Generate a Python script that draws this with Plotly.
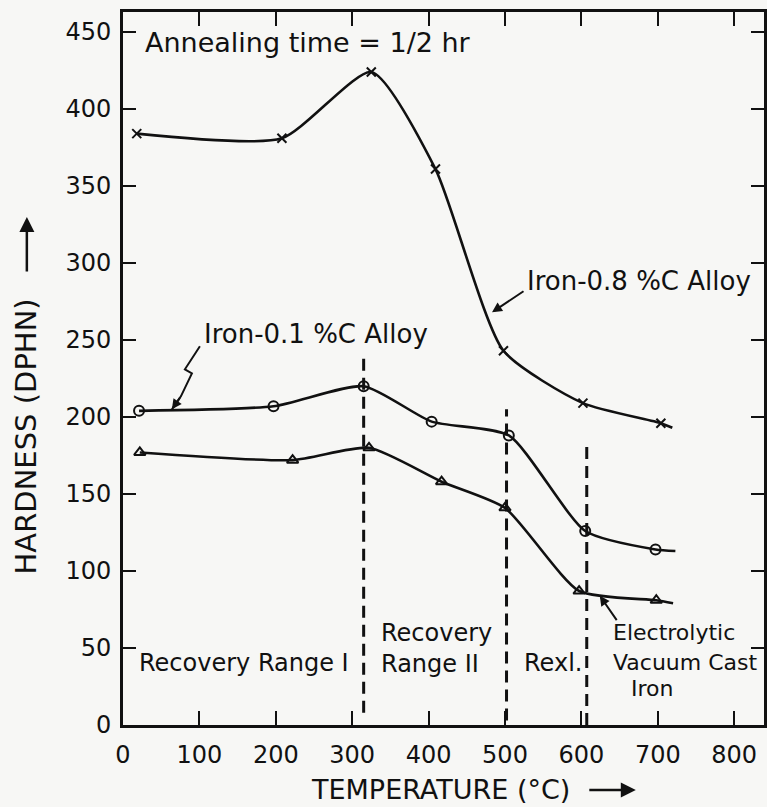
import plotly.graph_objects as go

# ---------------- data ----------------
temp_08 = [18, 208, 325, 409, 498, 602, 704]
hard_08 = [384, 381, 424, 361, 243, 209, 196]
end_08 = (719, 193)

temp_01 = [21, 197, 315, 404, 505, 605, 697]
hard_01 = [204, 207, 220, 197, 188, 126, 114]
end_01 = (723, 113)

temp_el = [22, 222, 322, 417, 500, 597, 698]
hard_el = [177, 172, 180, 158, 141, 87, 81]
end_el = (720, 79)

# range boundaries (temperature, top hardness, bottom hardness)
boundary_temp = [315, 502, 607]
boundary_top = [238, 205, 185]
boundary_bottom = [8, 3, 0]

x_ticks = [0, 100, 200, 300, 400, 500, 600, 700, 800]
y_ticks = [0, 50, 100, 150, 200, 250, 300, 350, 400, 450]

FONT = "DejaVu Sans"
INK = "#111111"
BG = "#f7f7f5"

fig = go.Figure()

series = [
    (temp_08, hard_08, end_08, "x-thin-open", 9, "Iron-0.8 %C Alloy"),
    (temp_01, hard_01, end_01, "circle-open", 10, "Iron-0.1 %C Alloy"),
    (temp_el, hard_el, end_el, "triangle-up-open", 10, "Electrolytic Vacuum Cast Iron"),
]
for tx, hy, end, sym, msize, name in series:
    fig.add_trace(go.Scatter(
        x=tx + [end[0]], y=hy + [end[1]], mode="lines",
        line=dict(color=INK, width=2.6, shape="spline", smoothing=0.6),
        hoverinfo="skip", showlegend=False))
    fig.add_trace(go.Scatter(
        x=tx, y=hy, mode="markers", name=name,
        marker=dict(symbol=sym, size=msize, color=INK,
                    line=dict(color=INK, width=2)),
        showlegend=False))

# dashed range boundaries
for bx, top, bot in zip(boundary_temp, boundary_top, boundary_bottom):
    fig.add_shape(type="line", xref="x", yref="y", x0=bx, x1=bx, y0=bot, y1=top,
                  line=dict(color=INK, width=3, dash="12px,7px"))

# zig-zag leader for Iron-0.1 %C (pixel offsets relative to arrow tip, y up)
zig = [(0, 0), (9, 13), (20, 36), (13, 40), (28, 63)]
path = "M " + " L ".join(f"{dx},{dy}" for dx, dy in zig)
fig.add_shape(type="path", xref="x", yref="y", xsizemode="pixel", ysizemode="pixel",
              xanchor=64, yanchor=205, path=path,
              line=dict(color=INK, width=2))

txt = dict(family=FONT, size=24, color=INK)
big = dict(family=FONT, size=26, color=INK)
small = dict(family=FONT, size=22, color=INK)
ann = []
ann.append(dict(x=26, y=443, xref="x", yref="y", text="Annealing time = 1/2 hr",
                showarrow=False, xanchor="left", yanchor="middle", font=dict(family=FONT, size=27, color=INK)))
ann.append(dict(x=526, y=288, xref="x", yref="y", text="Iron-0.8 %C Alloy",
                showarrow=False, xanchor="left", yanchor="middle", font=big))
ann.append(dict(x=104, y=254, xref="x", yref="y", text="Iron-0.1 %C Alloy",
                showarrow=False, xanchor="left", yanchor="middle", font=big))
# leader arrows
ann.append(dict(x=483, y=268, xref="x", yref="y", text="", showarrow=True,
                ax=33, ay=-22, arrowhead=2, arrowsize=1, arrowwidth=2, arrowcolor=INK))
ann.append(dict(x=64, y=205, xref="x", yref="y", text="", showarrow=True,
                ax=9, ay=-13, arrowhead=2, arrowsize=1, arrowwidth=2, arrowcolor=INK))
ann.append(dict(x=624, y=84, xref="x", yref="y", text="", showarrow=True,
                ax=18, ay=26, arrowhead=2, arrowsize=1, arrowwidth=2, arrowcolor=INK))
# region labels
ann.append(dict(x=18, y=40, xref="x", yref="y", text="Recovery Range I",
                showarrow=False, xanchor="left", yanchor="middle", font=txt))
ann.append(dict(x=335, y=50, xref="x", yref="y", text="Recovery<br>Range II",
                showarrow=False, xanchor="left", yanchor="middle", align="left", font=txt))
ann.append(dict(x=522, y=40, xref="x", yref="y", text="Rexl.",
                showarrow=False, xanchor="left", yanchor="middle", font=txt))
ann.append(dict(x=639, y=60, xref="x", yref="y", text="Electrolytic",
                showarrow=False, xanchor="left", yanchor="middle", font=small))
ann.append(dict(x=639, y=40.5, xref="x", yref="y", text="Vacuum Cast",
                showarrow=False, xanchor="left", yanchor="middle", font=small))
ann.append(dict(x=662, y=24, xref="x", yref="y", text="Iron",
                showarrow=False, xanchor="left", yanchor="middle", font=small))
# axis titles
ann.append(dict(x=0.495, y=-0.091, xref="paper", yref="paper", text="TEMPERATURE (°C)",
                showarrow=False, xanchor="center", yanchor="middle",
                font=dict(family=FONT, size=27, color=INK)))
ann.append(dict(x=0.80, y=-0.091, xref="paper", yref="paper", text="", showarrow=True,
                ax=-48, ay=0, arrowhead=2, arrowsize=1.2, arrowwidth=2.5, arrowcolor=INK))
ann.append(dict(x=-0.151, y=0.405, xref="paper", yref="paper", text="HARDNESS (DPHN)",
                showarrow=False, textangle=-90, xanchor="center", yanchor="middle",
                font=dict(family=FONT, size=29, color=INK)))
ann.append(dict(x=-0.150, y=0.7125, xref="paper", yref="paper", text="", showarrow=True,
                ax=0, ay=56, arrowhead=2, arrowsize=1.2, arrowwidth=2.5, arrowcolor=INK))

fig.update_layout(
    width=767, height=807,
    margin=dict(l=123, r=0, t=12, b=82),
    paper_bgcolor=BG, plot_bgcolor=BG,
    font=dict(family=FONT, color=INK),
    annotations=ann,
    showlegend=False,
)
fig.update_xaxes(range=[0, 839], tickvals=x_ticks, ticktext=[str(v) for v in x_ticks],
                 ticks="inside", ticklen=14, tickwidth=2.2, tickcolor=INK,
                 showline=True, linewidth=2.8, linecolor=INK, mirror="ticks",
                 showgrid=False, zeroline=False,
                 tickfont=dict(family=FONT, size=24, color=INK), ticklabelstandoff=6)
fig.update_yaxes(range=[0, 463], tickvals=y_ticks, ticktext=[str(v) for v in y_ticks],
                 ticks="inside", ticklen=13, tickwidth=2.2, tickcolor=INK,
                 showline=True, linewidth=2.8, linecolor=INK, mirror="ticks",
                 showgrid=False, zeroline=False,
                 tickfont=dict(family=FONT, size=24, color=INK), ticklabelstandoff=4)

fig.write_html("out.html")
